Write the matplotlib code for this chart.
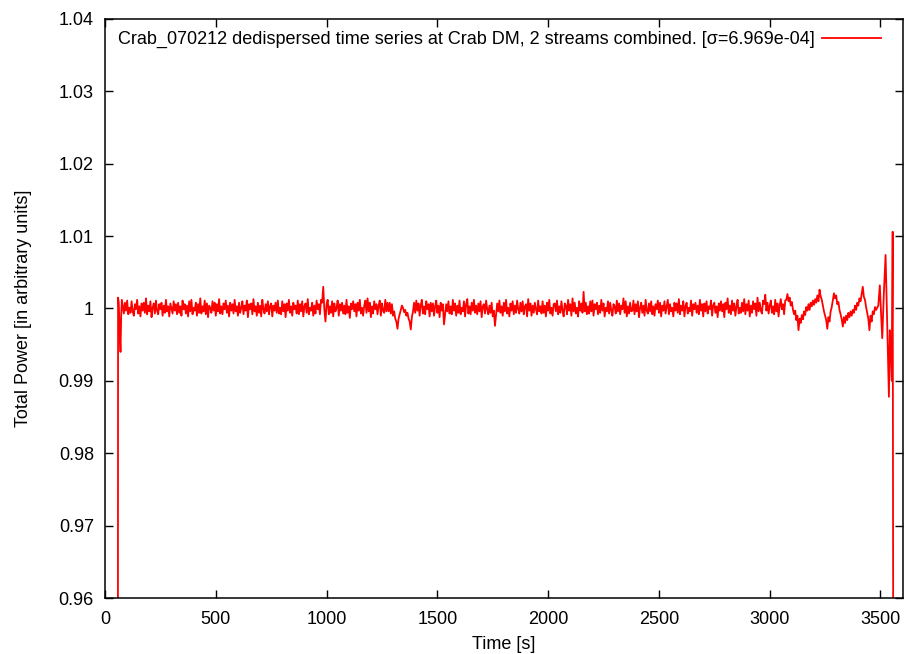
import matplotlib
matplotlib.use("Agg")
import matplotlib.pyplot as plt
import numpy as np

plt.rcParams['font.family'] = ['Liberation Sans', 'DejaVu Sans']

# Start of the recording (sample times in s, power)
head_t = [58, 59, 62, 66, 70, 73, 76]
head_p = [0.94, 1.0015, 1.0008, 0.9970, 0.9940, 0.9990, 1.0012]

# Regular part, one sample every 5 s from 80 s to 3475 s,
# deviation from 1 in units of 1e-4 (one row = 100 s)
grid_start, grid_step = 80, 5
dev_1e4 = [
    4, -7, 8, -3, 11, -8, 1, -6, 10, -4, -10, 6, -1, 12, -7, 3, -11, 7, -3, 8,
    -6, 14, -8, 4, -4, 10, -12, 1, 7, -7, 11, -3, -8, 6, -1, 8, -10, 4, -6, 12,
    -4, 3, -11, 7, 0, -7, 10, -3, 6, -8, 8, -6, 3, -10, 11, -1, 6, -7, 4, -11,
    10, -4, 12, -8, 1, -3, 8, -10, 6, -6, 14, -7, 3, -4, 11, -8, 7, -12, 4, 1,
    -6, 10, -3, 8, -10, 6, -4, 13, -7, 3, -8, 7, -1, 11, -6, 4, -11, 8, -3, 6,
    -7, 12, -4, 3, -10, 8, -6, 1, 10, -8, 4, -3, 11, -12, 6, -1, 7, -8, 13, -4,
    3, -10, 8, -6, 4, -11, 12, -1, -7, 6, -4, 10, -8, 3, 7, -11, 4, -3, 8, -6,
    11, -7, 1, -8, 10, -4, 6, -12, 7, -3, 12, -6, 3, -10, 8, -1, 4, -7, 11, -8,
    6, -4, 10, -11, 3, 7, -6, 13, -8, 1, -3, 8, -10, 4, -7, 11, -1, 6, -8, 12,
    8, 30, -2, -18, 6, 12, -8, 3, -6, 10, -11, 7, -4, 1, 11, -10, 6, -3, 8, -7,
    4, -8, 12, -6, 3, -13, 7, -1, 10, -4, 6, -11, 8, -3, 12, -7, 1, -10, 4, 11,
    -6, 14, -4, 8, -12, 3, -7, 10, -1, 6, -8, 4, 11, -10, 7, -3, -6, 12, -4, 8,
    -4, 8, -7, 6, -10, -4, -14, -18, -28, -14, -8, -2, 4, 1, -5, -2, -10, -6, -14, -18,
    -29, -12, -4, 8, -6, 11, -3, 7, -10, 4, 12, -7, 3, -8, 10, -1, 6, -11, 8, -4,
    7, -10, 3, 11, -6, 4, -12, 8, -3, 6, -22, -8, 6, -4, 10, -7, 3, -8, 12, -3,
    7, -10, 4, -6, 11, -8, 1, -4, 10, -11, 6, 13, -7, 3, -8, 8, -3, 12, -6, 4,
    -8, 7, -4, 10, -12, 3, 6, -7, 11, -1, -8, 4, -6, 8, -11, -3, -24, -8, 7, -4,
    11, -6, 3, -10, 8, -4, 12, -7, 1, -11, 7, -3, 10, -8, 4, -6, 11, -1, -7, 8,
    -4, 10, -8, 3, 6, -11, 13, -3, 7, -10, 4, -6, 8, -1, -8, 11, -4, 3, -7, 10,
    -6, 4, -11, 8, -3, 12, -7, 1, -10, 6, 7, -4, 11, -8, 3, -6, 10, -3, -11, 7,
    4, -8, 12, -3, 6, -10, 14, -4, 8, -7, 1, -11, 10, -3, 7, -6, 23, -4, 8, -8,
    3, -7, 10, -4, 11, -10, 6, -1, 8, -8, 4, -6, 12, -3, 7, -11, 1, -4, 10, -7,
    8, -3, -10, 6, 3, -7, 11, -4, 7, -8, 4, -1, 14, -6, 10, -11, 3, -7, 8, -4,
    -3, 11, -8, 6, -4, 10, -12, 1, 8, -6, 4, -10, 12, -3, -7, 7, -4, 10, -8, 3,
    -10, 6, -1, 11, -6, 8, -11, 4, -3, 10, -7, 3, 12, -8, 6, -4, 1, -11, 8, -3,
    7, -6, 13, -8, 4, -3, 10, -11, 3, 8, -7, 1, -4, 11, -10, 6, -1, 8, -6, 4,
    -8, 12, -3, 6, -11, 7, -4, 10, -7, 3, -1, 11, -10, 4, 8, -6, 3, -12, 7, -3,
    10, -4, 6, -12, 8, -1, 14, -6, 4, -8, 11, -3, 7, -10, 3, 12, -7, 1, -6, 8,
    -4, 13, -8, 6, -3, 11, -11, 4, -6, 10, -1, 7, -10, 15, -4, 8, -3, -7, 11, 6,
    19, -3, 8, -7, 4, 11, -6, 3, -8, 12, -4, 7, -11, 4, 13, -1, 6, -8, 11, 12,
    20, 10, 15, 4, 9, -2, -8, -3, -16, -10, -30, -14, -20, -9, -15, -4, -9, 2, -3, 6,
    -2, 8, 3, 11, 5, 13, 8, 18, 10, 26, 17, 12, 4, -4, -10, -16, -28, -12, -18, -4,
    2, 12, 21, 14, 18, 6, 9, -2, -8, -15, -25, -12, -20, -10, -16, -6, -12, -4, -10, -2,
    -6, 4, -2, 8, 4, 14, 10, 20, 30, 16, 12, 2, -6, -14, -30, -10, -18, -4, -8, 2,
]

# End of the recording
tail_t = [3480, 3490, 3497, 3503, 3508, 3515, 3523, 3528, 3532, 3538,
          3542, 3545, 3551, 3555, 3558]
tail_p = [0.9998, 1.0004, 1.0032, 0.9990, 0.9959, 1.0020, 1.0074, 1.0010,
          0.9954, 0.9878, 0.9970, 0.9956, 0.9900, 1.0106, 0.94]

label = "Crab_070212 dedispersed time series at Crab DM, 2 streams combined. [\u03c3=6.969e-04]"

grid_t = grid_start + grid_step * np.arange(len(dev_1e4))
grid_p = 1.0 + np.array(dev_1e4) * 1e-4

t = np.concatenate([head_t, grid_t, tail_t])
p = np.concatenate([head_p, grid_p, tail_p])

fig = plt.figure(figsize=(9.06, 6.54), dpi=100)
ax = fig.add_axes([0.1159, 0.0856, 0.8804, 0.8854])

ax.plot(t, p, color='#ff0000', linewidth=1.3, label=label)

ax.set_xlim(0, 3600)
ax.set_ylim(0.96, 1.04)
ax.set_xticks(np.arange(0, 3501, 500))
ax.set_yticks([0.96, 0.97, 0.98, 0.99, 1.0, 1.01, 1.02, 1.03, 1.04])
ax.set_yticklabels(['0.96', '0.97', '0.98', '0.99', '1', '1.01', '1.02', '1.03', '1.04'])

ax.tick_params(direction='in', top=True, right=True, length=5.5, width=1,
               labelsize=13)
ax.tick_params(axis='x', pad=9)
ax.tick_params(axis='y', pad=8)
for s in ax.spines.values():
    s.set_linewidth(1.1)

ax.set_xlabel('Time [s]', fontsize=13)
ax.set_ylabel('Total Power [in arbitrary units]', fontsize=13)
ax.xaxis.set_label_coords(0.5, -0.066)
ax.yaxis.set_label_coords(-0.092, 0.5)

ax.legend(loc='upper right', bbox_to_anchor=(0.9734, 0.979), frameon=False,
          markerfirst=False, fontsize=13, handlelength=3.3, handletextpad=0.4,
          borderpad=0, borderaxespad=0)

fig.savefig('out.png', dpi=100)
